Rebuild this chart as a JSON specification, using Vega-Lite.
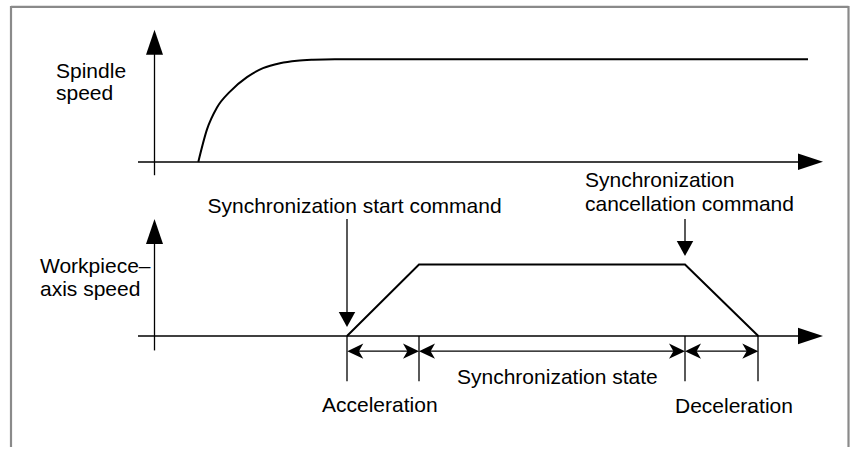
{
  "$schema": "https://vega.github.io/schema/vega-lite/v6.json",
  "width": 850,
  "height": 449,
  "padding": 0,
  "autosize": {"type": "fit", "contains": "padding"},
  "background": "white",
  "config": {"view": {"stroke": null}},
  "datasets": {
    "border": [
      {"x": 11, "y": 7, "x2": 848.5, "y2": 7},
      {"x": 11, "y": 6, "x2": 11, "y2": 449},
      {"x": 848.5, "y": 6, "x2": 848.5, "y2": 449}
    ],
    "axes": [
      {"x": 154.5, "y": 50, "x2": 154.5, "y2": 176},
      {"x": 138, "y": 162.7, "x2": 802, "y2": 162.7},
      {"x": 154.5, "y": 240, "x2": 154.5, "y2": 352},
      {"x": 138, "y": 337.5, "x2": 802, "y2": 337.5},
      {"x": 347, "y": 220, "x2": 347, "y2": 315},
      {"x": 685, "y": 220, "x2": 685, "y2": 244},
      {"x": 347, "y": 337.5, "x2": 347, "y2": 383},
      {"x": 419, "y": 337.5, "x2": 419, "y2": 383},
      {"x": 685, "y": 337.5, "x2": 685, "y2": 383},
      {"x": 758, "y": 337.5, "x2": 758, "y2": 383},
      {"x": 350, "y": 352.7, "x2": 416, "y2": 352.7},
      {"x": 422, "y": 352.7, "x2": 682, "y2": 352.7},
      {"x": 688, "y": 352.7, "x2": 755, "y2": 352.7}
    ],
    "spindle": [
      {"x": 198.3, "y": 162.7},
      {"x": 207, "y": 130},
      {"x": 217, "y": 108},
      {"x": 230, "y": 92},
      {"x": 247, "y": 77.5},
      {"x": 263, "y": 68.5},
      {"x": 280, "y": 63.5},
      {"x": 297, "y": 61},
      {"x": 313, "y": 60},
      {"x": 335, "y": 59.5},
      {"x": 808, "y": 59.5}
    ],
    "workpiece": [
      {"x": 347, "y": 337.5},
      {"x": 419, "y": 265.7},
      {"x": 685, "y": 265.7},
      {"x": 758.3, "y": 337.5}
    ],
    "upArrows": [
      {"x": 154.5, "y": 42.5},
      {"x": 154.5, "y": 232.5}
    ],
    "rightArrows": [
      {"x": 810.5, "y": 162.5},
      {"x": 810.5, "y": 337.5}
    ],
    "downArrows": [
      {"x": 347, "y": 321},
      {"x": 685, "y": 249.5}
    ],
    "dimLeft": [
      {"x": 355.3, "y": 352.7},
      {"x": 427, "y": 352.7},
      {"x": 693, "y": 352.7}
    ],
    "dimRight": [
      {"x": 411, "y": 352.7},
      {"x": 677, "y": 352.7},
      {"x": 750.3, "y": 352.7}
    ],
    "labels": [
      {"x": 56, "y": 78, "text": "Spindle"},
      {"x": 56, "y": 100, "text": "speed"},
      {"x": 40, "y": 274, "text": "Workpiece–"},
      {"x": 40, "y": 297, "text": "axis speed"},
      {"x": 207.5, "y": 214, "text": "Synchronization start command"},
      {"x": 585, "y": 187.5, "text": "Synchronization"},
      {"x": 585, "y": 211.5, "text": "cancellation command"},
      {"x": 457, "y": 386, "text": "Synchronization state"},
      {"x": 322, "y": 414, "text": "Acceleration"},
      {"x": 675, "y": 415, "text": "Deceleration"}
    ]
  },
  "encoding": {
    "x": {"field": "x", "type": "quantitative", "scale": {"domain": [0, 850], "nice": false, "zero": false}, "axis": null},
    "y": {"field": "y", "type": "quantitative", "scale": {"domain": [0, 449], "nice": false, "zero": false, "reverse": true}, "axis": null}
  },
  "layer": [
    {
      "data": {"name": "border"},
      "mark": {"type": "rule", "color": "#8a8a8a", "strokeWidth": 2.2},
      "encoding": {"x2": {"field": "x2"}, "y2": {"field": "y2"}}
    },
    {
      "data": {"name": "axes"},
      "mark": {"type": "rule", "color": "#000000", "strokeWidth": 1.3},
      "encoding": {"x2": {"field": "x2"}, "y2": {"field": "y2"}}
    },
    {
      "data": {"name": "spindle"},
      "mark": {"type": "line", "color": "#000000", "strokeWidth": 2, "interpolate": "monotone"},
      "encoding": {}
    },
    {
      "data": {"name": "workpiece"},
      "mark": {"type": "line", "color": "#000000", "strokeWidth": 2, "strokeJoin": "miter"},
      "encoding": {}
    },
    {
      "data": {"name": "upArrows"},
      "mark": {"type": "point", "filled": true, "color": "#000000", "opacity": 1, "size": 625, "shape": "M0,-1L0.68,1L-0.68,1Z"},
      "encoding": {}
    },
    {
      "data": {"name": "rightArrows"},
      "mark": {"type": "point", "filled": true, "color": "#000000", "opacity": 1, "size": 625, "shape": "M1,0L-1,0.66L-1,-0.66Z"},
      "encoding": {}
    },
    {
      "data": {"name": "downArrows"},
      "mark": {"type": "point", "filled": true, "color": "#000000", "opacity": 1, "size": 272, "shape": "M0,0.91L1,-0.91L-1,-0.91Z"},
      "encoding": {}
    },
    {
      "data": {"name": "dimLeft"},
      "mark": {"type": "point", "filled": true, "color": "#000000", "opacity": 1, "size": 256, "shape": "M-1,0L1,-0.94L0.45,0L1,0.94Z"},
      "encoding": {}
    },
    {
      "data": {"name": "dimRight"},
      "mark": {"type": "point", "filled": true, "color": "#000000", "opacity": 1, "size": 256, "shape": "M1,0L-1,-0.94L-0.45,0L-1,0.94Z"},
      "encoding": {}
    },
    {
      "data": {"name": "labels"},
      "mark": {"type": "text", "align": "left", "baseline": "alphabetic", "font": "Liberation Sans", "fontSize": 21, "color": "#000000"},
      "encoding": {"text": {"field": "text"}}
    }
  ]
}
